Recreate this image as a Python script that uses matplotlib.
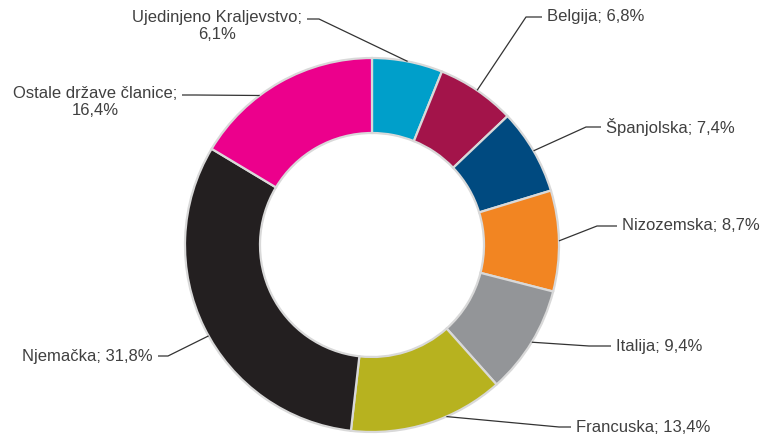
import matplotlib.pyplot as plt
import numpy as np

# Data
countries = ["Ujedinjeno Kraljevstvo", "Belgija", "Španjolska", "Nizozemska",
             "Italija", "Francuska", "Njemačka", "Ostale države članice"]
shares = [6.1, 6.8, 7.4, 8.7, 9.4, 13.4, 31.8, 16.4]
colors = ["#009fca", "#a3144a", "#004a80", "#f28522",
          "#939598", "#b7b21f", "#231f20", "#ec008c"]

# Layout (pixels, y measured from top)
W, H = 763, 434
CX, CY, R, RING = 372, 245, 187, 75
TEXT_COLOR = "#404040"
LINE_COLOR = "#333333"

# label text anchor x, line y, side, elbow length, leader angle shift (deg)
label_pos = [
    (302, 19, "right", 12, 0),
    (547, 17, "left", 16, 0),
    (606, 127, "left", 15, 0),
    (622, 226, "left", 20, 0),
    (616, 346, "left", 22, 0),
    (576, 427, "left", 12, 5.8),
    (153, 356, "right", 10, 2.8),
    (177, 95, "right", 14, 7.4),
]
two_line = {0, 7}


def fmt(v):
    return f"{v:.1f}".replace(".", ",") + "%"


fig = plt.figure(figsize=(W / 100, H / 100), dpi=100)
ax = fig.add_axes([0, 0, 1, 1])

wedges, _ = ax.pie(shares, colors=colors, startangle=90, counterclock=False,
                   center=(CX, H - CY), radius=R,
                   wedgeprops=dict(width=RING, edgecolor="#d9d9d9", linewidth=1.6))
ax.set_xlim(0, W)
ax.set_ylim(0, H)
ax.set_aspect("equal")
ax.axis("off")

for i, (w, name, v) in enumerate(zip(wedges, countries, shares)):
    tx, ty, side, elbow, shift = label_pos[i]
    mid = np.deg2rad((w.theta1 + w.theta2) / 2 + shift)
    px = CX + R * np.cos(mid)
    py = (H - CY) + R * np.sin(mid)
    sign = 1 if side == "left" else -1
    start = tx - sign * 5
    ex = start - sign * elbow
    ax.plot([start, ex, px], [H - ty, H - ty, py], color=LINE_COLOR, lw=0.9,
            solid_capstyle="butt")
    if i in two_line:
        ax.text(tx, H - ty + 9, f"{name};\n{fmt(v)}", ha=side, va="top",
                multialignment="center", fontsize=12, color=TEXT_COLOR,
                family="Liberation Sans", linespacing=1.15)
    else:
        ax.text(tx, H - ty, f"{name}; {fmt(v)}", ha=side, va="center",
                fontsize=12, color=TEXT_COLOR, family="Liberation Sans")

fig.savefig("out.png", dpi=100)
